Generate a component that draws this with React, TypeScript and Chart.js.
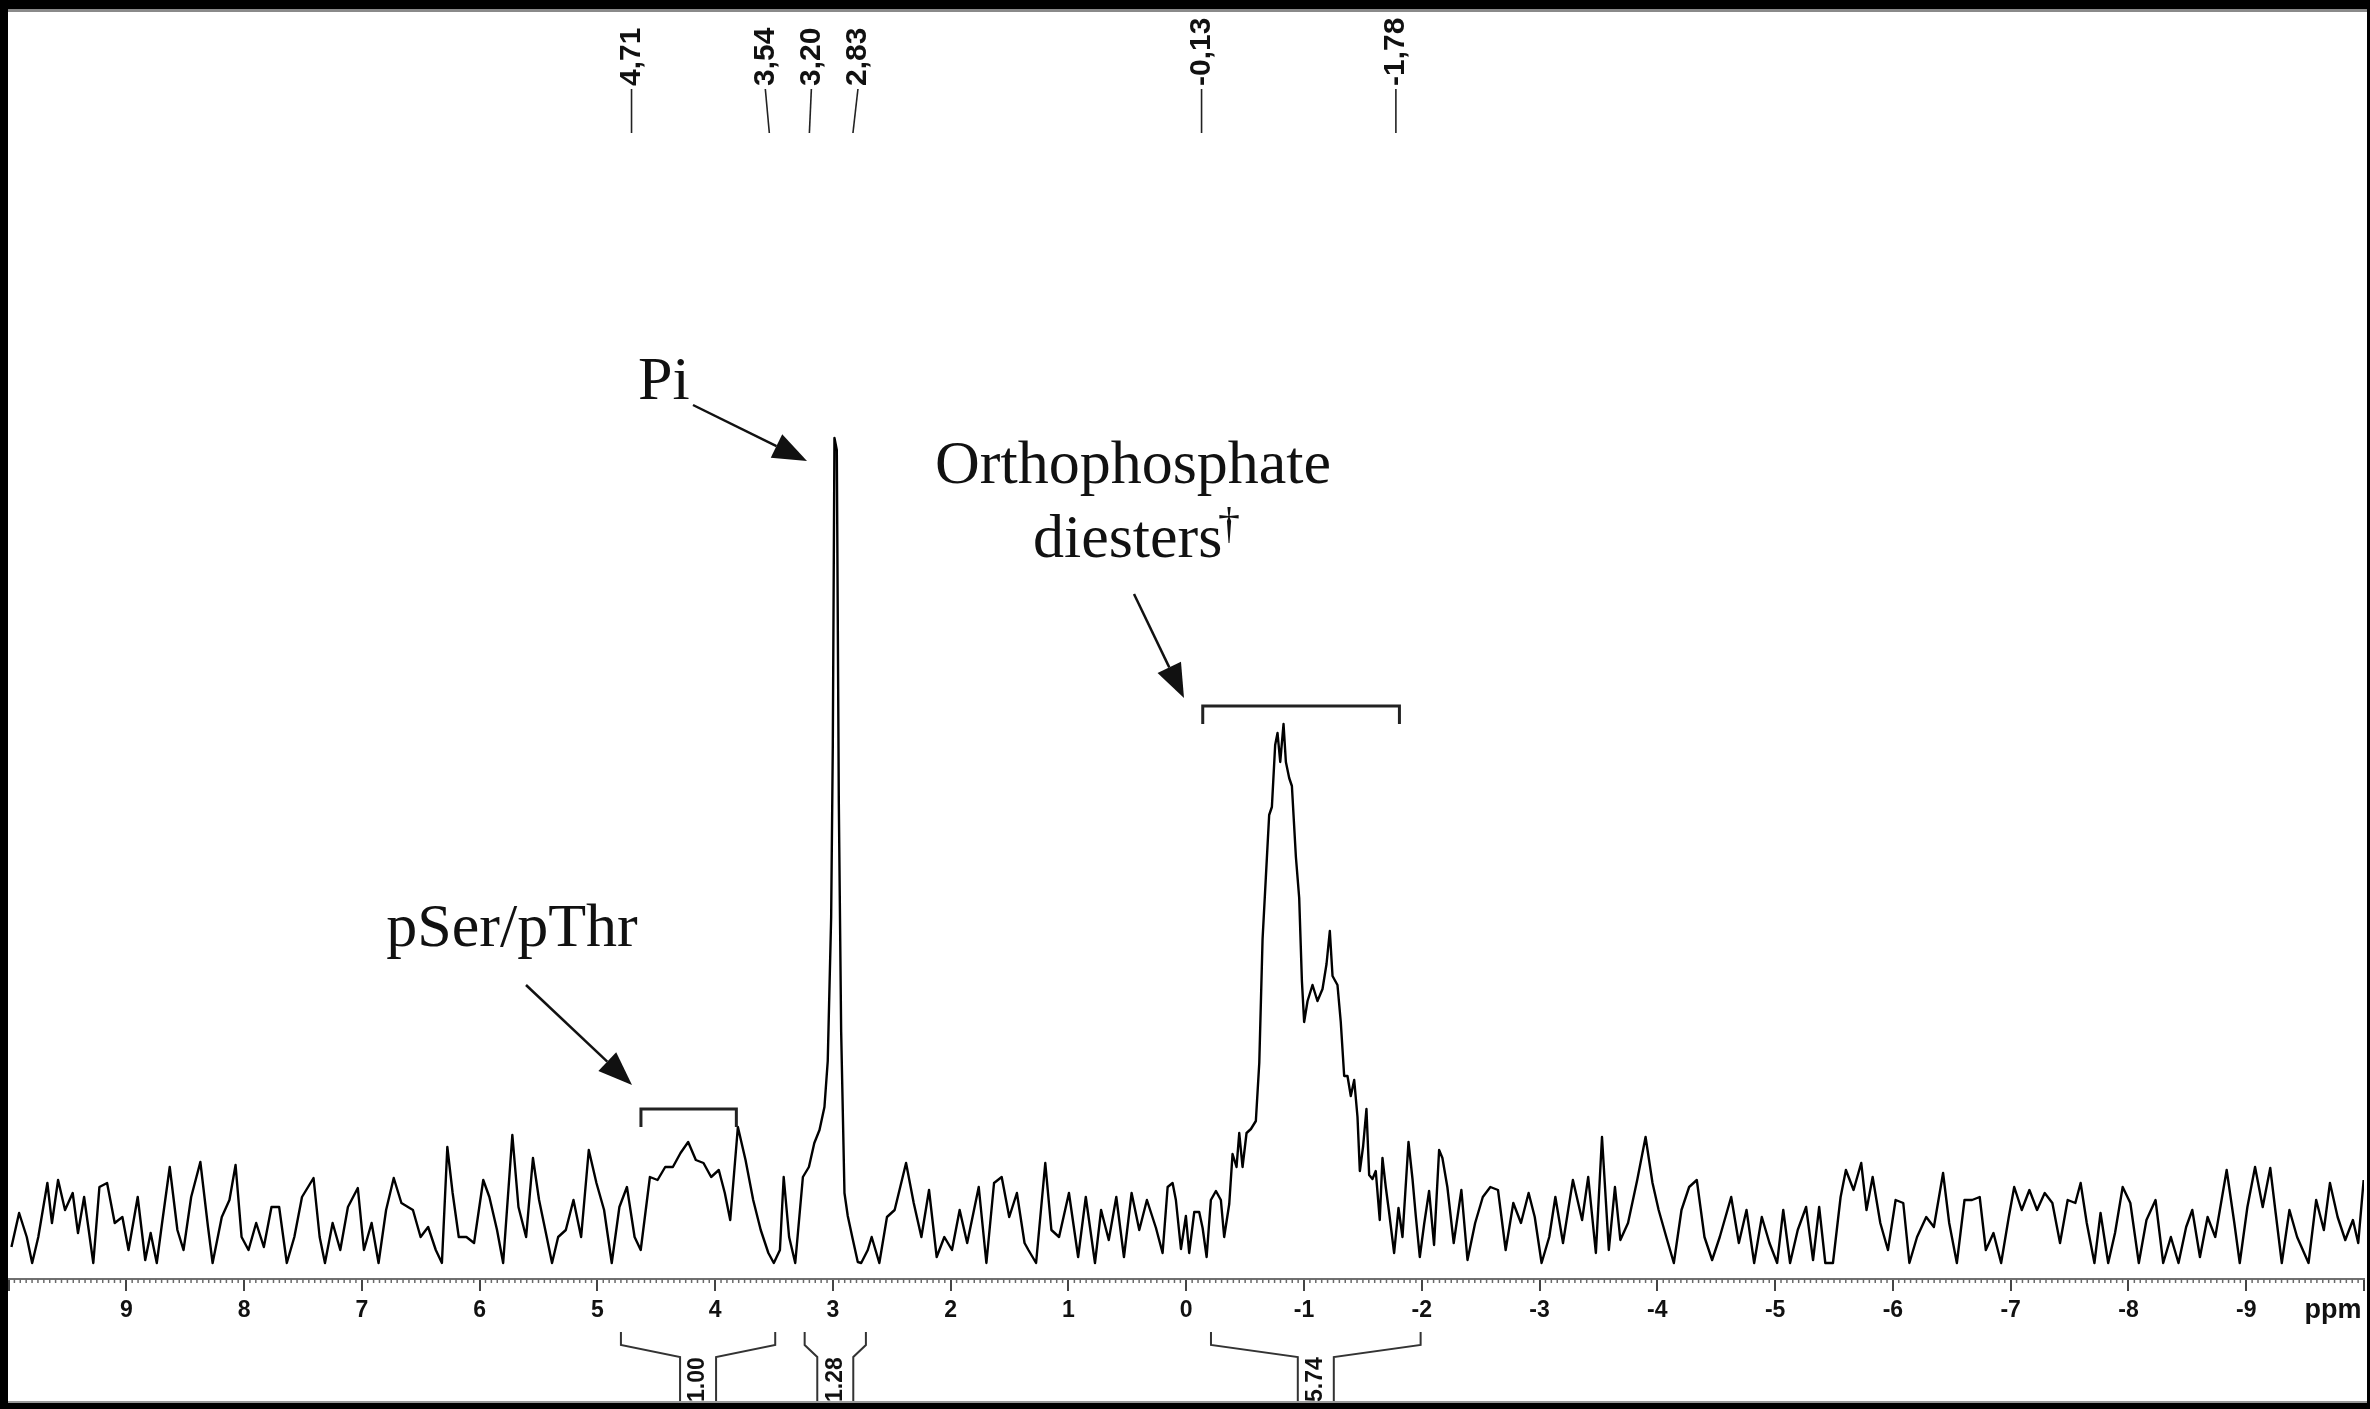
import React, { useEffect, useRef } from "react";
import { Chart, registerables } from "chart.js";

Chart.register(...registerables);

// Chemical shift (ppm) of each sampled point of the 31P spectrum, left (high ppm) to right
const shiftPpm: number[] = [
  9.975, 9.91, 9.845, 9.799, 9.747, 9.67, 9.631, 9.579, 9.52, 9.455, 9.41, 9.358, 9.28, 9.228, 9.163, 9.098, 9.033, 8.981, 8.903, 8.839,
  8.793, 8.741, 8.696, 8.631, 8.566, 8.514, 8.449, 8.371, 8.306, 8.267, 8.189, 8.124, 8.072, 8.021, 7.962, 7.897, 7.832, 7.767, 7.702, 7.637,
  7.573, 7.508, 7.41, 7.358, 7.313, 7.248, 7.183, 7.118, 7.034, 6.982, 6.917, 6.858, 6.794, 6.729, 6.664, 6.566, 6.501, 6.437, 6.372, 6.32,
  6.274, 6.229, 6.177, 6.112, 6.047, 5.969, 5.917, 5.852, 5.8, 5.722, 5.67, 5.605, 5.547, 5.495, 5.43, 5.385, 5.333, 5.268, 5.203, 5.138,
  5.073, 5.008, 4.943, 4.878, 4.813, 4.749, 4.684, 4.632, 4.554, 4.489, 4.424, 4.359, 4.294, 4.229, 4.164, 4.099, 4.034, 3.969, 3.918, 3.872,
  3.807, 3.742, 3.677, 3.613, 3.548, 3.502, 3.45, 3.418, 3.372, 3.32, 3.255, 3.204, 3.158, 3.114, 3.072, 3.044, 3.015, 3.001, 2.987, 2.967,
  2.95, 2.93, 2.902, 2.874, 2.832, 2.789, 2.76, 2.704, 2.671, 2.606, 2.541, 2.476, 2.379, 2.314, 2.249, 2.184, 2.119, 2.054, 1.989, 1.924,
  1.86, 1.762, 1.697, 1.632, 1.567, 1.503, 1.438, 1.373, 1.34, 1.275, 1.197, 1.145, 1.08, 0.996, 0.918, 0.853, 0.775, 0.723, 0.658, 0.594,
  0.529, 0.464, 0.399, 0.334, 0.257, 0.201, 0.158, 0.116, 0.088, 0.045, 0.003, -0.025, -0.068, -0.11, -0.139, -0.173, -0.209, -0.252, -0.294, -0.322,
  -0.365, -0.393, -0.427, -0.45, -0.478, -0.512, -0.549, -0.591, -0.62, -0.648, -0.676, -0.704, -0.727, -0.755, -0.775, -0.798, -0.826, -0.846, -0.874, -0.897,
  -0.931, -0.959, -0.982, -1.001, -1.03, -1.072, -1.114, -1.157, -1.191, -1.219, -1.242, -1.284, -1.312, -1.341, -1.369, -1.397, -1.426, -1.454, -1.474, -1.502,
  -1.53, -1.553, -1.581, -1.609, -1.643, -1.666, -1.694, -1.722, -1.765, -1.802, -1.836, -1.887, -1.921, -1.949, -1.983, -2.02, -2.062, -2.104, -2.147, -2.175,
  -2.217, -2.271, -2.336, -2.388, -2.453, -2.518, -2.582, -2.647, -2.712, -2.777, -2.842, -2.907, -2.959, -3.017, -3.082, -3.134, -3.199, -3.283, -3.361, -3.413,
  -3.478, -3.53, -3.588, -3.64, -3.686, -3.751, -3.829, -3.9, -3.959, -4.011, -4.076, -4.14, -4.205, -4.27, -4.335, -4.4, -4.465, -4.53, -4.627, -4.692,
  -4.757, -4.822, -4.887, -4.952, -5.017, -5.069, -5.127, -5.192, -5.263, -5.322, -5.374, -5.426, -5.491, -5.556, -5.601, -5.666, -5.731, -5.776, -5.828, -5.893,
  -5.958, -6.023, -6.088, -6.14, -6.205, -6.283, -6.348, -6.426, -6.478, -6.543, -6.608, -6.672, -6.737, -6.789, -6.854, -6.919, -6.984, -7.03, -7.094, -7.159,
  -7.224, -7.289, -7.354, -7.419, -7.484, -7.549, -7.594, -7.646, -7.711, -7.763, -7.828, -7.886, -7.951, -8.016, -8.088, -8.153, -8.23, -8.295, -8.36, -8.425,
  -8.49, -8.542, -8.607, -8.672, -8.737, -8.834, -8.899, -8.945, -9.01, -9.075, -9.14, -9.204, -9.25, -9.302, -9.367, -9.432, -9.529, -9.594, -9.659, -9.711,
  -9.776, -9.841, -9.906, -9.951, -9.997,
];

// Signal intensity (arbitrary units) at each shift above
const signal: number[] = [
  3.2, 6.6, 4.2, 1.6, 4.2, 9.6, 5.6, 9.9, 6.9, 8.6, 4.6, 8.2, 1.6, 9.2, 9.6, 5.6, 6.2, 2.9, 8.2, 1.9,
  4.6, 1.6, 5.6, 11.2, 4.9, 2.9, 8.2, 11.7, 5.2, 1.6, 6.2, 7.9, 11.4, 4.2, 2.9, 5.6, 3.2, 7.2, 7.2, 1.6,
  4.2, 8.2, 10.1, 4.2, 1.6, 5.6, 2.9, 7.2, 9.1, 2.9, 5.6, 1.6, 6.9, 10.1, 7.6, 6.9, 4.2, 5.2, 2.9, 1.6,
  13.2, 8.6, 4.2, 4.2, 3.6, 9.9, 8.2, 4.9, 1.6, 14.4, 7.2, 4.2, 12.1, 7.9, 4.2, 1.6, 4.2, 4.9, 7.9, 4.2,
  12.9, 9.6, 6.9, 1.6, 7.2, 9.2, 4.2, 2.9, 10.2, 9.9, 11.2, 11.2, 12.6, 13.7, 11.9, 11.6, 10.2, 10.9, 8.6, 5.9,
  15.2, 11.9, 7.9, 4.9, 2.6, 1.6, 2.9, 10.2, 4.2, 1.6, 10.2, 11.2, 13.6, 14.9, 17.2, 21.8, 36.2, 53.4, 84.1, 82.9,
  47.7, 24.7, 8.6, 6.3, 4.0, 1.7, 1.6, 2.9, 4.2, 1.6, 6.2, 6.9, 11.6, 7.6, 4.2, 8.9, 2.2, 4.2, 2.9, 6.9,
  3.6, 9.2, 1.6, 9.6, 10.2, 6.2, 8.6, 3.6, 2.9, 1.6, 11.6, 4.9, 4.2, 8.6, 2.2, 8.2, 1.6, 6.9, 3.9, 8.2,
  2.2, 8.6, 4.9, 7.9, 5.1, 2.6, 9.2, 9.6, 7.9, 3.0, 6.3, 2.6, 6.7, 6.7, 5.1, 2.2, 7.9, 8.8, 7.9, 4.2,
  7.5, 12.5, 11.2, 14.6, 11.2, 14.6, 15.0, 15.8, 21.6, 34.0, 40.2, 46.4, 47.2, 53.4, 54.6, 51.7, 55.5, 51.7, 50.1, 49.3,
  42.2, 38.1, 29.8, 25.7, 27.8, 29.4, 27.8, 29.0, 31.5, 34.8, 30.3, 29.4, 25.7, 20.3, 20.3, 18.3, 19.9, 16.2, 10.8, 13.3,
  17.0, 10.4, 10.0, 10.8, 5.9, 12.1, 9.2, 6.7, 2.6, 7.1, 4.2, 13.7, 10.0, 6.3, 2.2, 5.5, 8.8, 3.4, 12.9, 12.1,
  9.2, 3.6, 8.9, 1.9, 5.6, 8.2, 9.2, 8.9, 2.9, 7.6, 5.6, 8.6, 6.2, 1.6, 4.2, 8.2, 3.6, 9.9, 5.9, 10.2,
  2.6, 14.2, 2.9, 9.2, 3.9, 5.6, 9.9, 14.2, 9.6, 6.9, 4.2, 1.6, 6.9, 9.2, 9.9, 4.2, 1.9, 4.2, 8.2, 3.6,
  6.9, 1.6, 6.2, 3.6, 1.6, 6.9, 1.6, 4.9, 7.2, 1.9, 7.2, 1.6, 1.6, 8.2, 10.9, 8.9, 11.6, 6.9, 10.2, 5.6,
  2.9, 7.9, 7.6, 1.6, 4.2, 6.2, 5.2, 10.6, 5.6, 1.6, 7.9, 7.9, 8.2, 2.9, 4.6, 1.6, 6.2, 9.2, 6.9, 8.9,
  6.9, 8.6, 7.6, 3.6, 7.9, 7.6, 9.6, 5.6, 1.6, 6.6, 1.6, 4.6, 9.2, 7.6, 1.6, 5.9, 7.9, 1.6, 4.2, 1.6,
  5.2, 6.9, 2.2, 6.2, 4.2, 10.9, 5.6, 1.6, 7.2, 11.2, 7.2, 11.1, 6.6, 1.6, 6.9, 4.2, 1.6, 7.9, 4.9, 9.6,
  6.2, 3.9, 5.9, 3.6, 9.9,
];

// Picked peaks (shown at the top)
const peakPpm: number[] = [4.71, 3.54, 3.2, 2.83, -0.13, -1.78];
const peakLabels: string[] = ["4,71", "3,54", "3,20", "2,83", "-0,13", "-1,78"];

// Integration regions (below the axis)
const integralFrom: number[] = [4.8, 3.24, -0.21];
const integralTo: number[] = [3.49, 2.72, -1.99];
const integralLabels: string[] = ["1.00", "1.28", "5.74"];

// Region brackets above the signals (pSer/pThr, diesters)
const bracketFrom: number[] = [4.63, -0.14];
const bracketTo: number[] = [3.82, -1.81];
const bracketLevel: number[] = [17.0, 57.3];

const SANS = '"Liberation Sans", Arial, sans-serif';
const SERIF = '"Liberation Serif", "Times New Roman", serif';

function drawArrow(ctx: CanvasRenderingContext2D, x1: number, y1: number, x2: number, y2: number) {
  const head = 34;
  const hw = 13;
  const a = Math.atan2(y2 - y1, x2 - x1);
  const bx = x2 - head * Math.cos(a);
  const by = y2 - head * Math.sin(a);
  ctx.beginPath();
  ctx.moveTo(x1, y1);
  ctx.lineTo(bx, by);
  ctx.stroke();
  ctx.beginPath();
  ctx.moveTo(x2, y2);
  ctx.lineTo(bx + hw * Math.sin(a), by - hw * Math.cos(a));
  ctx.lineTo(bx - hw * Math.sin(a), by + hw * Math.cos(a));
  ctx.closePath();
  ctx.fill();
}

const annotationPlugin = {
  id: "nmrAnnotations",
  beforeDraw(chart: any) {
    const ctx = chart.ctx as CanvasRenderingContext2D;
    ctx.save();
    ctx.fillStyle = "#ffffff";
    ctx.fillRect(0, 0, chart.width, chart.height);
    ctx.restore();
  },
  afterDraw(chart: any) {
    const ctx = chart.ctx as CanvasRenderingContext2D;
    const xs = chart.scales.x;
    const ys = chart.scales.y;
    const X = (v: number) => xs.getPixelForValue(v);
    const Y = (v: number) => ys.getPixelForValue(v);
    const axisY = chart.chartArea.bottom;
    ctx.save();

    // minor ticks on the ppm axis
    ctx.strokeStyle = "#6a6a6a";
    ctx.lineWidth = 1.5;
    for (let k = -200; k <= 200; k++) {
      if (k % 20 === 0) continue;
      const x = X(k * 0.05);
      ctx.beginPath();
      ctx.moveTo(x, axisY);
      ctx.lineTo(x, axisY + 4);
      ctx.stroke();
    }

    // "ppm" unit label
    ctx.fillStyle = "#111";
    ctx.font = `bold 27px ${SANS}`;
    ctx.textAlign = "center";
    ctx.textBaseline = "alphabetic";
    ctx.fillText("ppm", 2333, axisY + 39);

    // peak labels at the top
    const labelShift = [0, -4, 2, 5, 0, 0];
    ctx.strokeStyle = "#222";
    ctx.lineWidth = 1.6;
    ctx.font = `bold 30px ${SANS}`;
    peakPpm.forEach((p, i) => {
      const xb = X(p);
      const xt = xb + labelShift[i];
      ctx.beginPath();
      ctx.moveTo(xt, 89);
      ctx.lineTo(xb, 133);
      ctx.stroke();
      ctx.save();
      ctx.translate(xt, 86);
      ctx.rotate(-Math.PI / 2);
      ctx.textAlign = "left";
      ctx.textBaseline = "middle";
      ctx.fillText(peakLabels[i], 0, 0);
      ctx.restore();
    });

    // region brackets above signals
    ctx.strokeStyle = "#222";
    ctx.lineWidth = 3;
    bracketFrom.forEach((f, i) => {
      const x1 = X(f);
      const x2 = X(bracketTo[i]);
      const y = Y(bracketLevel[i]);
      ctx.beginPath();
      ctx.moveTo(x1, y + 18);
      ctx.lineTo(x1, y);
      ctx.lineTo(x2, y);
      ctx.lineTo(x2, y + 18);
      ctx.stroke();
    });

    // integral braces below the axis
    ctx.strokeStyle = "#333";
    ctx.lineWidth = 2;
    integralFrom.forEach((f, i) => {
      const xl = X(f);
      const xr = X(integralTo[i]);
      const xc = (xl + xr) / 2;
      const hw = 18;
      const yTop = axisY + 53;
      const yK = axisY + 66;
      const yS = axisY + 78;
      const yB = axisY + 125;
      ctx.beginPath();
      ctx.moveTo(xl, yTop);
      ctx.lineTo(xl, yK);
      ctx.lineTo(xc - hw, yS);
      ctx.lineTo(xc - hw, yB);
      ctx.stroke();
      ctx.beginPath();
      ctx.moveTo(xr, yTop);
      ctx.lineTo(xr, yK);
      ctx.lineTo(xc + hw, yS);
      ctx.lineTo(xc + hw, yB);
      ctx.stroke();
      ctx.save();
      ctx.translate(xc, axisY + 123);
      ctx.rotate(-Math.PI / 2);
      ctx.font = `bold 23px ${SANS}`;
      ctx.fillStyle = "#111";
      ctx.textAlign = "left";
      ctx.textBaseline = "middle";
      ctx.fillText(integralLabels[i], 0, 0);
      ctx.restore();
    });

    // serif annotations
    ctx.fillStyle = "#111";
    ctx.strokeStyle = "#111";
    ctx.font = `62px ${SERIF}`;
    ctx.textBaseline = "alphabetic";
    ctx.textAlign = "left";
    ctx.fillText("Pi", 638, 399);
    ctx.textAlign = "center";
    ctx.fillText("Orthophosphate", 1133, 483);
    ctx.fillText("pSer/pThr", 512, 946);
    ctx.textAlign = "left";
    ctx.fillText("diesters", 1033, 557);
    ctx.font = `44px ${SERIF}`;
    ctx.fillText("\u2020", 1218, 538);

    ctx.lineWidth = 2.5;
    drawArrow(ctx, 693, 405, 807, 461);
    drawArrow(ctx, 1134, 594, 1184, 698);
    drawArrow(ctx, 526, 985, 632, 1085);

    // photo frame
    ctx.fillStyle = "#000";
    ctx.fillRect(0, 0, chart.width, 9);
    ctx.fillStyle = "#8a8a8a";
    ctx.fillRect(8, 9, chart.width - 11, 3);
    ctx.fillStyle = "#000";
    ctx.fillRect(0, 0, 8, chart.height);
    ctx.fillRect(chart.width - 3, 0, 3, chart.height);
    ctx.fillRect(0, chart.height - 6, chart.width, 6);
    ctx.fillStyle = "#9a9a9a";
    ctx.fillRect(8, chart.height - 8, chart.width - 11, 2);
    ctx.restore();
  },
};

export default function App() {
  const canvasRef = useRef<HTMLCanvasElement | null>(null);

  useEffect(() => {
    if (!canvasRef.current) return;
    document.body.style.margin = "0";
    const points = shiftPpm.map((x, i) => ({ x, y: signal[i] }));
    const chart = new Chart(canvasRef.current, {
      type: "line",
      data: {
        datasets: [
          {
            data: points,
            borderColor: "#000",
            borderWidth: 2.4,
            borderJoinStyle: "round",
            pointRadius: 0,
            tension: 0,
            fill: false,
          },
        ],
      },
      options: {
        animation: false,
        responsive: false,
        maintainAspectRatio: false,
        devicePixelRatio: 1,
        layout: { padding: { left: 8.5, right: 4.5, top: 12, bottom: 0 } },
        plugins: {
          legend: { display: false },
          tooltip: { enabled: false },
          title: { display: false },
        },
        scales: {
          x: {
            type: "linear",
            reverse: true,
            min: -10,
            max: 10,
            position: "bottom",
            afterFit: (scale: any) => {
              scale.height = 130;
            },
            border: { display: true, color: "#707070", width: 2 },
            grid: {
              display: true,
              drawOnChartArea: false,
              drawTicks: true,
              tickLength: 12,
              color: "#444",
              lineWidth: 2,
            },
            ticks: {
              stepSize: 1,
              autoSkip: false,
              maxRotation: 0,
              padding: 6,
              color: "#111",
              font: { family: SANS, size: 23, weight: "bold" },
              callback: (v: any) => (Math.abs(Number(v)) >= 10 ? "" : String(v)),
            },
          },
          y: { display: false, min: 0, max: 126.7 },
        },
      },
      plugins: [annotationPlugin],
    } as any);
    return () => chart.destroy();
  }, []);

  return (
    <div style={{ position: "fixed", left: 0, top: 0, width: 2370, height: 1409, background: "#fff" }}>
      <canvas ref={canvasRef} width={2370} height={1409} style={{ display: "block", width: 2370, height: 1409 }} />
    </div>
  );
}
